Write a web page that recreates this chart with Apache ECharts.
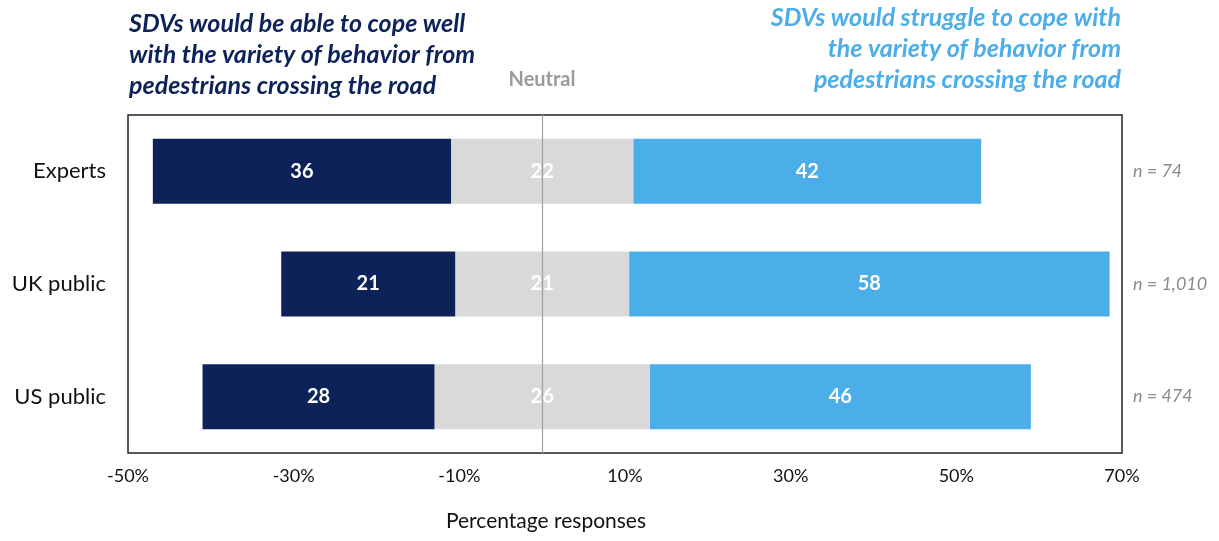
<!DOCTYPE html>
<html>
<head>
<meta charset="utf-8">
<script src="https://cdn.jsdelivr.net/npm/echarts@6/dist/echarts.min.js"></script>
<style>
  html, body { margin: 0; padding: 0; background: #fff; }
  #chart { width: 1219px; height: 541px; }
</style>
</head>
<body>
<div id="chart"></div>
<script>
// groups, top to bottom
const groups = ['Experts', 'UK public', 'US public'];
const copeWell = [36, 21, 28];
const neutral = [22, 21, 26];
const struggle = [42, 58, 46];
const sampleSizes = ['n = 74', 'n = 1,010', 'n = 474'];

const FONT = 'Lato, "Open Sans", sans-serif';
const DARK = '#0c2259';
const GREY = '#d9d9d9';
const BLUE = '#4caee8';

const chart = echarts.init(document.getElementById('chart'), null, { renderer: 'canvas' });

// neutral split in two halves around zero
const neutralLeft = neutral.map(v => -v / 2);
const neutralRight = neutral.map(v => v / 2);

const barLabel = {
    show: true,
    color: '#fff',
    fontFamily: FONT,
    fontWeight: 'bold',
    fontSize: 20
};

const titleStyle = {
    fontFamily: FONT, fontWeight: 'bold', fontStyle: 'italic',
    fontSize: 25, lineHeight: 31, verticalAlign: 'top'
};

const option = {
    animation: false,
    grid: {
        left: 128, right: 97, top: 115, bottom: 88,
        show: true, borderColor: '#222', borderWidth: 1.5, backgroundColor: 'transparent'
    },
    graphic: [
        {
            type: 'text', x: 129, y: 8,
            style: Object.assign({
                text: 'SDVs would be able to cope well\nwith the variety of behavior from\npedestrians crossing the road',
                fill: DARK, align: 'left'
            }, titleStyle)
        },
        {
            type: 'text', x: 1121, y: 2,
            style: Object.assign({
                text: 'SDVs would struggle to cope with\nthe variety of behavior from\npedestrians crossing the road',
                fill: BLUE, align: 'right'
            }, titleStyle)
        },
        {
            type: 'text', x: 542, y: 70,
            style: {
                text: 'Neutral', fill: '#9a9a9a', align: 'center', verticalAlign: 'top',
                fontFamily: FONT, fontWeight: 'bold', fontSize: 20
            }
        },
        {
            type: 'text', x: 546, y: 511,
            style: {
                text: 'Percentage responses', fill: '#111', align: 'center', verticalAlign: 'top',
                fontFamily: FONT, fontSize: 21
            }
        }
    ],
    xAxis: {
        type: 'value',
        min: -50, max: 70, interval: 20,
        axisLine: { show: false },
        axisTick: { show: false },
        splitLine: { show: false },
        axisLabel: { color: '#111', fontFamily: FONT, fontSize: 18, margin: 14, formatter: v => v + '%' }
    },
    yAxis: [
        {
            type: 'category',
            data: groups,
            inverse: true,
            axisLine: { show: false },
            axisTick: { show: false },
            axisLabel: { color: '#111', fontFamily: FONT, fontSize: 22, margin: 22 }
        },
        {
            type: 'category',
            data: sampleSizes,
            inverse: true,
            position: 'right',
            axisLine: { show: false },
            axisTick: { show: false },
            axisLabel: { color: '#8a8a8a', fontFamily: FONT, fontStyle: 'italic', fontSize: 18, margin: 11 }
        }
    ],
    series: [
        {
            name: 'Neutral left',
            type: 'bar', stack: 'all', barWidth: 65,
            data: neutralLeft,
            itemStyle: { color: GREY },
            silent: true
        },
        {
            name: 'Cope well',
            type: 'bar', stack: 'all', barWidth: 65,
            data: copeWell.map(v => -v),
            itemStyle: { color: DARK },
            label: Object.assign({}, barLabel, { position: 'inside', formatter: p => Math.abs(p.value) })
        },
        {
            name: 'Neutral right',
            type: 'bar', stack: 'all', barWidth: 65,
            data: neutralRight,
            itemStyle: { color: GREY },
            label: Object.assign({}, barLabel, {
                position: [0, '50%'], align: 'center', verticalAlign: 'middle',
                formatter: p => neutral[p.dataIndex]
            }),
            markLine: {
                silent: true, symbol: 'none',
                lineStyle: { color: '#a0a0a0', width: 1.2, type: 'solid' },
                label: { show: false },
                data: [{ xAxis: 0 }]
            },
            z: 3
        },
        {
            name: 'Struggle',
            type: 'bar', stack: 'all', barWidth: 65,
            data: struggle,
            itemStyle: { color: BLUE },
            label: Object.assign({}, barLabel, { position: 'inside' })
        }
    ]
};

chart.setOption(option);
window.addEventListener('resize', () => chart.resize());
</script>
</body>
</html>
